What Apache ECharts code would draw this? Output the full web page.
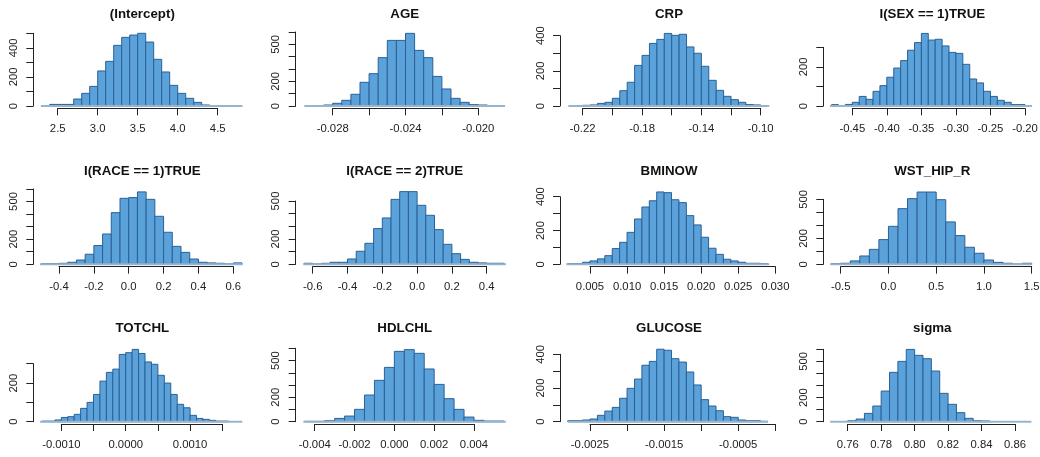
<!DOCTYPE html>
<html>
<head>
<meta charset="utf-8">
<script src="https://cdn.jsdelivr.net/npm/echarts@6.0.0/dist/echarts.min.js"></script>
<style>
html,body{margin:0;padding:0;background:#ffffff;}
#chart{width:1040px;height:457px;}
</style>
</head>
<body>
<div id="chart"></div>
<script>
// ---------------- DATA ----------------
const titles = ["(Intercept)", "AGE", "CRP", "I(SEX == 1)TRUE",
                "I(RACE == 1)TRUE", "I(RACE == 2)TRUE", "BMINOW", "WST_HIP_R",
                "TOTCHL", "HDLCHL", "GLUCOSE", "sigma"];

// histogram bin start and bin width per panel
const binStart = [2.4, -0.0285, -0.22, -0.48, -0.5, -0.65, 0.002, -0.6, -0.0013, -0.0045, -0.0028, 0.76];
const binWidth = [0.1, 0.0005, 0.005, 0.01, 0.05, 0.05, 0.001, 0.1, 0.0001, 0.0005, 0.0001, 0.005];

// counts per bin
const countsIntercept = [11, 11, 11, 48, 87, 135, 241, 307, 417, 472, 488, 500, 440, 321, 234, 142, 87, 53, 25, 7];
const countsAge = [8, 22, 46, 95, 192, 262, 392, 532, 532, 589, 451, 392, 240, 138, 62, 30, 11, 8];
const countsCrp = [4, 6, 15, 21, 44, 87, 135, 231, 288, 356, 379, 413, 402, 408, 336, 300, 226, 146, 89, 55, 36, 21, 8, 6];
const countsSex = [7, 2, 8, 19, 49, 34, 75, 104, 147, 194, 232, 285, 324, 371, 337, 341, 307, 274, 269, 213, 138, 118, 75, 49, 29, 19, 7, 7];
const countsRace1 = [5, 5, 8, 16, 34, 80, 149, 241, 411, 525, 531, 576, 517, 382, 255, 143, 95, 42, 16, 11, 8, 3, 11];
const countsRace2 = [8, 2, 8, 16, 16, 42, 103, 166, 282, 366, 513, 574, 574, 466, 387, 274, 158, 84, 39, 16, 11, 8, 8];
const countsBminow = [4, 4, 12, 20, 32, 51, 93, 130, 189, 268, 339, 376, 428, 424, 382, 365, 288, 233, 160, 95, 59, 30, 20, 12, 6, 6, 4];
const countsWstHip = [5, 8, 26, 64, 115, 190, 292, 428, 505, 556, 556, 497, 326, 221, 131, 85, 33, 15, 8, 1, 8];
const countsTotchl = [3, 3, 9, 22, 26, 38, 69, 100, 141, 210, 255, 272, 348, 357, 374, 353, 309, 297, 240, 200, 141, 90, 72, 33, 17, 12, 7, 3, 3];
const countsHdlchl = [3, 3, 8, 27, 46, 101, 218, 338, 444, 575, 589, 559, 431, 305, 188, 101, 38, 11, 5, 5];
const countsGlucose = [6, 6, 10, 16, 38, 63, 85, 139, 198, 253, 335, 358, 430, 424, 374, 354, 295, 218, 131, 93, 65, 30, 26, 10, 6, 6, 2];
const countsSigma = [8, 22, 69, 130, 254, 409, 500, 599, 550, 522, 420, 235, 144, 75, 28, 8, 6];

const allCounts = [countsIntercept, countsAge, countsCrp, countsSex,
                   countsRace1, countsRace2, countsBminow, countsWstHip,
                   countsTotchl, countsHdlchl, countsGlucose, countsSigma];

// x range of the flat reference line at zero
const lineFrom = [2.29, -0.02956, -0.2297, -0.4823, -0.509, -0.654, 0.0018, -0.61, -0.00133, -0.00457, -0.0028, 0.7495];
const lineTo   = [4.81, -0.01853, -0.0942, -0.19, 0.654, 0.511, 0.0292, 1.5, 0.00181, 0.0056, -0.0001, 0.8698];

// x axis ticks
const xMin  = [2.5, -0.028, -0.22, -0.45, -0.4, -0.6, 0.005, -0.5, -0.001, -0.004, -0.0025, 0.76];
const xMax  = [4.5, -0.020, -0.10, -0.20, 0.6, 0.4, 0.030, 1.5, 0.0015, 0.004, 0.0, 0.86];
const xStep = [0.5, 0.002, 0.02, 0.05, 0.2, 0.2, 0.005, 0.5, 0.0005, 0.002, 0.0005, 0.02];
const xTickLabels = [
  ["2.5", "3.0", "3.5", "4.0", "4.5"],
  ["-0.028", "", "-0.024", "", "-0.020"],
  ["-0.22", "", "-0.18", "", "-0.14", "", "-0.10"],
  ["-0.45", "-0.40", "-0.35", "-0.30", "-0.25", "-0.20"],
  ["-0.4", "-0.2", "0.0", "0.2", "0.4", "0.6"],
  ["-0.6", "-0.4", "-0.2", "0.0", "0.2", "0.4"],
  ["0.005", "0.010", "0.015", "0.020", "0.025", "0.030"],
  ["-0.5", "0.0", "0.5", "1.0", "1.5"],
  ["-0.0010", "", "0.0000", "", "0.0010", ""],
  ["-0.004", "-0.002", "0.000", "0.002", "0.004"],
  ["-0.0025", "", "-0.0015", "", "-0.0005", ""],
  ["0.76", "0.78", "0.80", "0.82", "0.84", "0.86"]
];

// y axis ticks (step 100)
const yMax = [500, 600, 400, 300, 600, 500, 400, 500, 300, 600, 400, 600];
const yStep = 100;
const yTickLabels = [
  ["0", "", "200", "", "400", ""],
  ["0", "", "200", "", "", "500", ""],
  ["0", "", "200", "", "400"],
  ["0", "", "200", ""],
  ["0", "", "200", "", "", "500", ""],
  ["0", "", "200", "", "", "500"],
  ["0", "", "200", "", "400"],
  ["0", "", "200", "", "", "500"],
  ["0", "", "200", ""],
  ["0", "", "200", "", "", "500", ""],
  ["0", "", "200", "", "400"],
  ["0", "", "200", "", "", "500", ""]
];

// ---------------- LAYOUT (pixels) ----------------
const colAxisPx = [33.3, 295.7, 560, 823.3];
const colTitlePx = [142.3, 404.7, 669, 932.3];
const rowZeroPx = [106, 264.3, 421.7];
const rowTitlePx = [14, 170.5, 328.3];
const xFirstPx = [57.7, 332.7, 582.7, 852.3, 59, 312.7, 590, 840.7, 61.3, 314.7, 590, 847.7];
const xLastPx  = [217.7, 478.3, 760.7, 1025, 233.3, 486.7, 775.3, 1031.7, 222.3, 474, 775.3, 1015];
const yTopPx   = [33.3, 32, 35.7, 47.3, 188.9, 201, 196.7, 199.3, 363.7, 348.3, 354.3, 349.3];

// ---------------- STYLE ----------------
const FONT = "'Liberation Sans', Arial, Helvetica, sans-serif";
const INK = '#222222';
const BAR_FILL = '#5BA2DA';
const BAR_EDGE = '#2A6096';
const ZERO_LINE = '#98B4CC';

function histRender(params, api) {
  const a = api.coord([api.value(0), api.value(2)]);
  const b = api.coord([api.value(1), 0]);
  return {
    type: 'rect',
    shape: { x: a[0], y: a[1], width: b[0] - a[0], height: b[1] - a[1] },
    style: { fill: BAR_FILL, stroke: BAR_EDGE, lineWidth: 1 }
  };
}
function zeroLineRender(params, api) {
  const a = api.coord([api.value(0), 0]);
  const b = api.coord([api.value(1), 0]);
  return {
    type: 'line',
    shape: { x1: a[0], y1: a[1], x2: b[0], y2: b[1] },
    style: { stroke: ZERO_LINE, lineWidth: 2 }
  };
}

const grids = [], xAxes = [], yAxes = [], series = [], titleList = [];
for (let i = 0; i < 12; i++) {
  const col = i % 4, row = Math.floor(i / 4);
  const zeroY = rowZeroPx[row];
  grids.push({
    left: xFirstPx[i], top: yTopPx[i],
    width: xLastPx[i] - xFirstPx[i], height: zeroY - yTopPx[i],
    containLabel: false, outerBoundsMode: 'none'
  });
  const xl = xTickLabels[i];
  xAxes.push({
    gridIndex: i, type: 'value', min: xMin[i], max: xMax[i], interval: xStep[i],
    position: 'bottom', offset: 2.3,
    axisLine: { show: true, onZero: false, lineStyle: { color: INK, width: 1 } },
    axisTick: { show: true, inside: false, length: 7, lineStyle: { color: INK, width: 1 } },
    axisLabel: {
      show: true, margin: 15, fontSize: 11.3, color: INK, fontFamily: FONT,
      showMinLabel: true, showMaxLabel: true, hideOverlap: false,
      formatter: (v, idx) => xl[idx] !== undefined ? xl[idx] : ''
    },
    splitLine: { show: false }
  });
  const yl = yTickLabels[i];
  yAxes.push({
    gridIndex: i, type: 'value', min: 0, max: yMax[i], interval: yStep,
    position: 'left', offset: xFirstPx[i] - colAxisPx[col],
    axisLine: { show: true, onZero: false, lineStyle: { color: INK, width: 1 } },
    axisTick: { show: true, inside: false, length: 7, lineStyle: { color: INK, width: 1 } },
    axisLabel: {
      show: true, rotate: 90, margin: 14, fontSize: 11.3, color: INK, fontFamily: FONT,
      showMinLabel: true, showMaxLabel: true, hideOverlap: false,
      formatter: (v, idx) => yl[idx] !== undefined ? yl[idx] : ''
    },
    splitLine: { show: false }
  });
  const counts = allCounts[i];
  const bins = counts.map((c, k) => [binStart[i] + k * binWidth[i], binStart[i] + (k + 1) * binWidth[i], c]);
  series.push({
    type: 'custom', xAxisIndex: i, yAxisIndex: i, clip: false, silent: true,
    dimensions: ['x0', 'x1', 'count'], encode: { x: [0, 1], y: 2 },
    renderItem: histRender, data: bins, z: 2
  });
  series.push({
    type: 'custom', xAxisIndex: i, yAxisIndex: i, clip: false, silent: true,
    dimensions: ['from', 'to'], encode: { x: [0, 1] },
    renderItem: zeroLineRender, data: [[lineFrom[i], lineTo[i]]], z: 3
  });
  titleList.push({
    text: titles[i], left: colTitlePx[col], top: rowTitlePx[row] - 6, textAlign: 'center',
    padding: 0,
    textStyle: { fontSize: 13.3, fontWeight: 'bold', color: '#111', fontFamily: FONT }
  });
}

const chart = echarts.init(document.getElementById('chart'), null, { renderer: 'canvas' });
chart.setOption({
  animation: false,
  backgroundColor: '#ffffff',
  title: titleList,
  grid: grids,
  xAxis: xAxes,
  yAxis: yAxes,
  series: series
});
</script>
</body>
</html>
